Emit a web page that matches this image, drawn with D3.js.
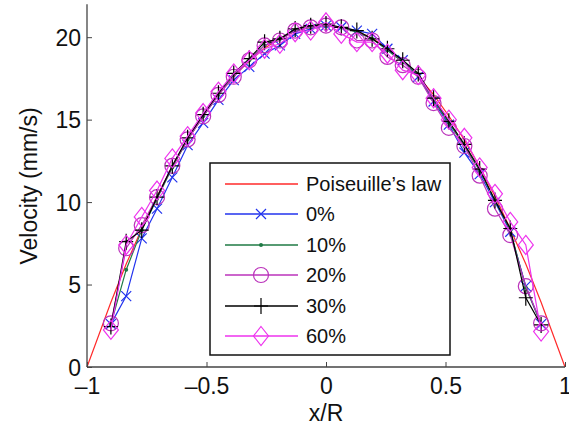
<!DOCTYPE html>
<html><head><meta charset="utf-8">
<script src="https://cdn.jsdelivr.net/npm/d3@7"></script>
<style>body{margin:0;background:#fff}svg{display:block}text{font-family:"Liberation Sans",Arial,sans-serif;fill:#111}</style>
</head><body><svg id="c" width="569" height="436"></svg>
<script>
const xR = [-0.9,-0.836,-0.771,-0.707,-0.643,-0.579,-0.514,-0.45,-0.386,-0.321,-0.257,-0.193,-0.129,-0.064,0,0.064,0.129,0.193,0.257,0.321,0.386,0.45,0.514,0.579,0.643,0.707,0.771,0.836,0.9];
const poisX = [-1,-0.9,-0.836,-0.771,-0.707,-0.643,-0.579,-0.514,-0.45,-0.386,-0.321,-0.257,-0.193,-0.129,-0.064,0,0.064,0.129,0.193,0.257,0.321,0.386,0.45,0.514,0.579,0.643,0.707,0.771,0.836,0.9,1];
const poisV = [0,3.93,6.24,8.38,10.35,12.15,13.77,15.22,16.51,17.62,18.56,19.33,19.93,20.36,20.61,20.7,20.61,20.36,19.93,19.33,18.56,17.62,16.51,15.22,13.77,12.15,10.35,8.38,6.24,3.93,0];
const v0  = [2.6,4.3,7.8,9.6,11.5,13.45,14.8,16.2,17.4,18.2,19.0,19.5,20.2,20.5,20.7,20.6,20.4,20.2,19.3,18.6,17.6,16.1,14.7,13.0,11.7,10.0,8.2,4.9,2.6];
const v10 = [2.6,5.9,8.3,10.2,12.1,13.8,15.2,16.5,17.7,18.6,19.5,19.9,20.4,20.6,20.7,20.6,20.3,19.9,19.2,18.5,17.7,16.2,14.8,13.4,11.9,10.1,8.3,4.8,2.6];
const v20 = [2.65,7.2,8.6,10.3,12.2,13.8,15.2,16.5,17.6,18.6,19.5,19.8,20.4,20.6,20.7,20.6,19.8,19.8,18.8,18.3,17.6,16.0,14.5,13.4,11.6,9.6,8.0,4.9,2.65];
const v30 = [2.45,7.6,8.3,10.3,12.2,13.9,15.3,16.6,17.8,18.7,19.7,19.9,20.5,20.7,20.8,20.6,20.4,19.9,19.3,18.6,17.8,16.3,14.9,13.5,12.0,10.1,8.4,4.2,2.55];
const v60 = [2.25,7.4,9.1,10.7,12.65,14.0,15.4,16.7,17.8,18.6,19.3,19.6,20.3,20.4,20.9,20.2,19.7,19.7,19.0,18.0,17.7,16.3,15.0,13.9,12.1,10.5,8.8,7.4,2.15];
const xTicks = [-1,-0.5,0,0.5,1];
const xTickLabels = ["\u20131","\u20130.5","0","0.5","1"];
const yTicks = [0,5,10,15,20];
const legendLabels = ["Poiseuille\u2019s law","0%","10%","20%","30%","60%"];

const svg = d3.select("#c");
const x = d3.scaleLinear().domain([-1,1]).range([87,565]);
const y = d3.scaleLinear().domain([0,22]).range([367,4.2]);

const RED = "#ff2a2a";
const series = [
  {name:legendLabels[1], vals:v0,  color:"#2233ee", marker:"x"},
  {name:legendLabels[2], vals:v10, color:"#1f7a45", marker:"dot"},
  {name:legendLabels[3], vals:v20, color:"#bb33bb", marker:"circle"},
  {name:legendLabels[4], vals:v30, color:"#000000", marker:"plus"},
  {name:legendLabels[5], vals:v60, color:"#ee33ee", marker:"diamond"}
];

function drawMarker(g, type, cx, cy, color){
  const sw = 1.2;
  if(type==="x"){
    g.append("path").attr("d",`M${cx-5},${cy-5}L${cx+5},${cy+5}M${cx-5},${cy+5}L${cx+5},${cy-5}`).attr("stroke",color).attr("stroke-width",sw).attr("fill","none");
  } else if(type==="dot"){
    g.append("circle").attr("cx",cx).attr("cy",cy).attr("r",2).attr("fill",color);
  } else if(type==="circle"){
    g.append("circle").attr("cx",cx).attr("cy",cy).attr("r",7.5).attr("stroke",color).attr("stroke-width",sw).attr("fill","none");
  } else if(type==="plus"){
    g.append("path").attr("d",`M${cx-7},${cy}L${cx+7},${cy}M${cx},${cy-8}L${cx},${cy+8}`).attr("stroke",color).attr("stroke-width",sw).attr("fill","none");
  } else if(type==="diamond"){
    g.append("path").attr("d",`M${cx},${cy-9.5}L${cx+7.5},${cy}L${cx},${cy+9.5}L${cx-7.5},${cy}Z`).attr("stroke",color).attr("stroke-width",sw).attr("fill","none");
  }
}

const line = d3.line();
svg.append("path")
  .attr("d", line(poisX.map((d,i)=>[x(d),y(poisV[i])])))
  .attr("stroke",RED).attr("stroke-width",1.2).attr("fill","none");

series.forEach(s=>{
  const g = svg.append("g");
  g.append("path").attr("d", line(xR.map((d,i)=>[x(d),y(s.vals[i])])))
    .attr("stroke",s.color).attr("stroke-width",1.2).attr("fill","none");
  xR.forEach((d,i)=>drawMarker(g,s.marker,x(d),y(s.vals[i]),s.color));
});

const axColor = "#444";
const xAxis = svg.append("g").attr("transform","translate(0,367)")
  .call(d3.axisBottom(x).tickValues(xTicks).tickSize(-5).tickFormat((d,i)=>xTickLabels[i]));
xAxis.select(".domain").attr("d","M87,0H565").attr("stroke",axColor).attr("stroke-width",1.3);
xAxis.selectAll(".tick line").attr("stroke",axColor);
xAxis.selectAll(".tick text").attr("font-size",23).attr("dy",0).attr("y",27).attr("fill","#111").attr("font-family","Liberation Sans, Arial, sans-serif");

const yAxis = svg.append("g").attr("transform","translate(87,0)")
  .call(d3.axisLeft(y).tickValues(yTicks).tickSize(-5));
yAxis.select(".domain").attr("d","M0,367V4.2").attr("stroke",axColor).attr("stroke-width",1.3);
yAxis.selectAll(".tick line").attr("stroke",axColor);
yAxis.selectAll(".tick text").attr("font-size",23).attr("x",-6).attr("dy","0.36em").attr("fill","#111").attr("font-family","Liberation Sans, Arial, sans-serif");

svg.append("text").attr("x",326).attr("y",421).attr("text-anchor","middle").attr("font-size",23).text("x/R");
svg.append("text").attr("transform","translate(37,186) rotate(-90)").attr("text-anchor","middle").attr("font-size",23).text("Velocity (mm/s)");

const lg = svg.append("g");
lg.append("rect").attr("x",210).attr("y",163).attr("width",240).attr("height",192).attr("fill","#fff").attr("stroke","#111").attr("stroke-width",1.5);
const rowsY = [184,214,245,275,306,336];
const legItems = [{name:legendLabels[0],color:RED,marker:null}].concat(series);
legItems.forEach((s,i)=>{
  const yy = rowsY[i];
  lg.append("path").attr("d",`M225,${yy}H298`).attr("stroke",s.color).attr("stroke-width",1.3).attr("fill","none");
  if(s.marker) drawMarker(lg,s.marker,261,yy,s.color);
  lg.append("text").attr("x",306).attr("y",yy).attr("dy","0.36em").attr("font-size",20).text(s.name);
});
</script></body></html>
